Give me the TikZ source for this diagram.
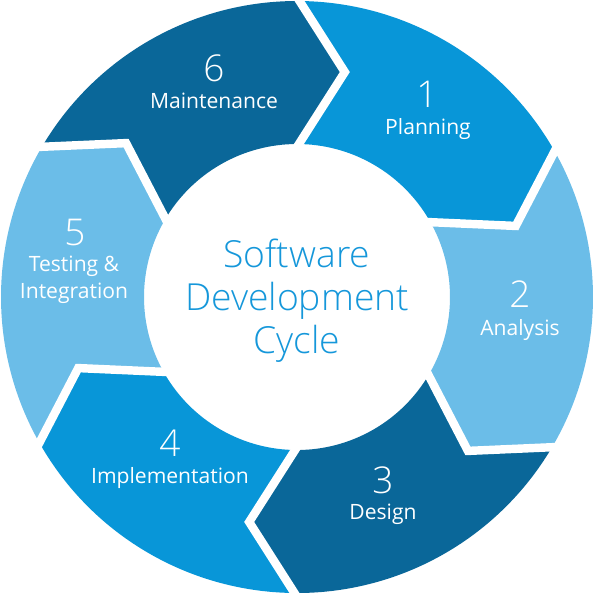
\documentclass[tikz,border=0pt]{standalone}
\usepackage{fontspec}
\setmainfont{Open Sans}[UprightFont=* Light]
\newfontfamily\sdcreg{Open Sans}
\usepackage{tikz}
\definecolor{sdcdark}{HTML}{0A6799}
\definecolor{sdcmid}{HTML}{0896D8}
\definecolor{sdclight}{HTML}{6BBDE8}
\definecolor{sdctext}{HTML}{1597DA}
\tikzset{
  sdcgap/.style={white, line width=2.4pt, line join=miter},
  num/.style={white, anchor=base, inner sep=0pt, font=\fontsize{10.5}{12}\selectfont},
  lbl/.style={white, anchor=base, inner sep=0pt, font=\sdcreg\fontsize{6}{7.7}\selectfont}
}
% one ring piece: #1 = start angle, #2 = colour
\newcommand{\sdcseg}[2]{%
  \fill[#2] (#1:296) arc[start angle=#1, end angle=#1-60, radius=296]
    -- (#1-72:230) -- (#1-60:153)
    arc[start angle=#1-60, end angle=#1, radius=153]
    -- (#1-12:230) -- cycle;}
\newcommand{\sdcgap}[1]{\draw[sdcgap] (#1:300) -- (#1-12:230) -- (#1:150);}

\begin{document}
\begin{tikzpicture}[x=0.01cm, y=0.01cm]
        \useasboundingbox (-297,-296) rectangle (297,297);
        \sdcseg{90}{sdcmid}
        \sdcseg{30}{sdclight}
        \sdcseg{-30}{sdcdark}
        \sdcseg{-90}{sdcmid}
        \sdcseg{-150}{sdclight}
        \sdcseg{150}{sdcdark}
        \sdcgap{90} \sdcgap{30} \sdcgap{-30}
        \sdcgap{-90} \sdcgap{-150} \sdcgap{150}
        \node (hub) [sdctext, align=center, font=\fontsize{10.6}{12.2}\selectfont] at (0,-4)
              {Software\\Development\\Cycle};
        \node (N1) [num] at (130, 190) {1};
        \node (L1) [lbl] at (131, 162.5) {Planning};
        \node (N2) [num] at (223, -10.5) {2};
        \node (L2) [lbl] at (223, -38) {Analysis};
        \node (N3) [num] at (86, -196) {3};
        \node (L3) [lbl] at (86, -222.7) {Design};
        \node (N4) [num] at (-127, -159) {4};
        \node (L4) [lbl] at (-127, -186) {Implementation};
        \node (N5) [num] at (-222, 51.5) {5};
        \node (L5) [lbl, anchor=center, align=center] at (-223, 17) {Testing \&\\Integration};
        \node (N6) [num] at (-83, 215.6) {6};
        \node (L6) [lbl] at (-83, 188.3) {Maintenance};
\end{tikzpicture}
\end{document}
